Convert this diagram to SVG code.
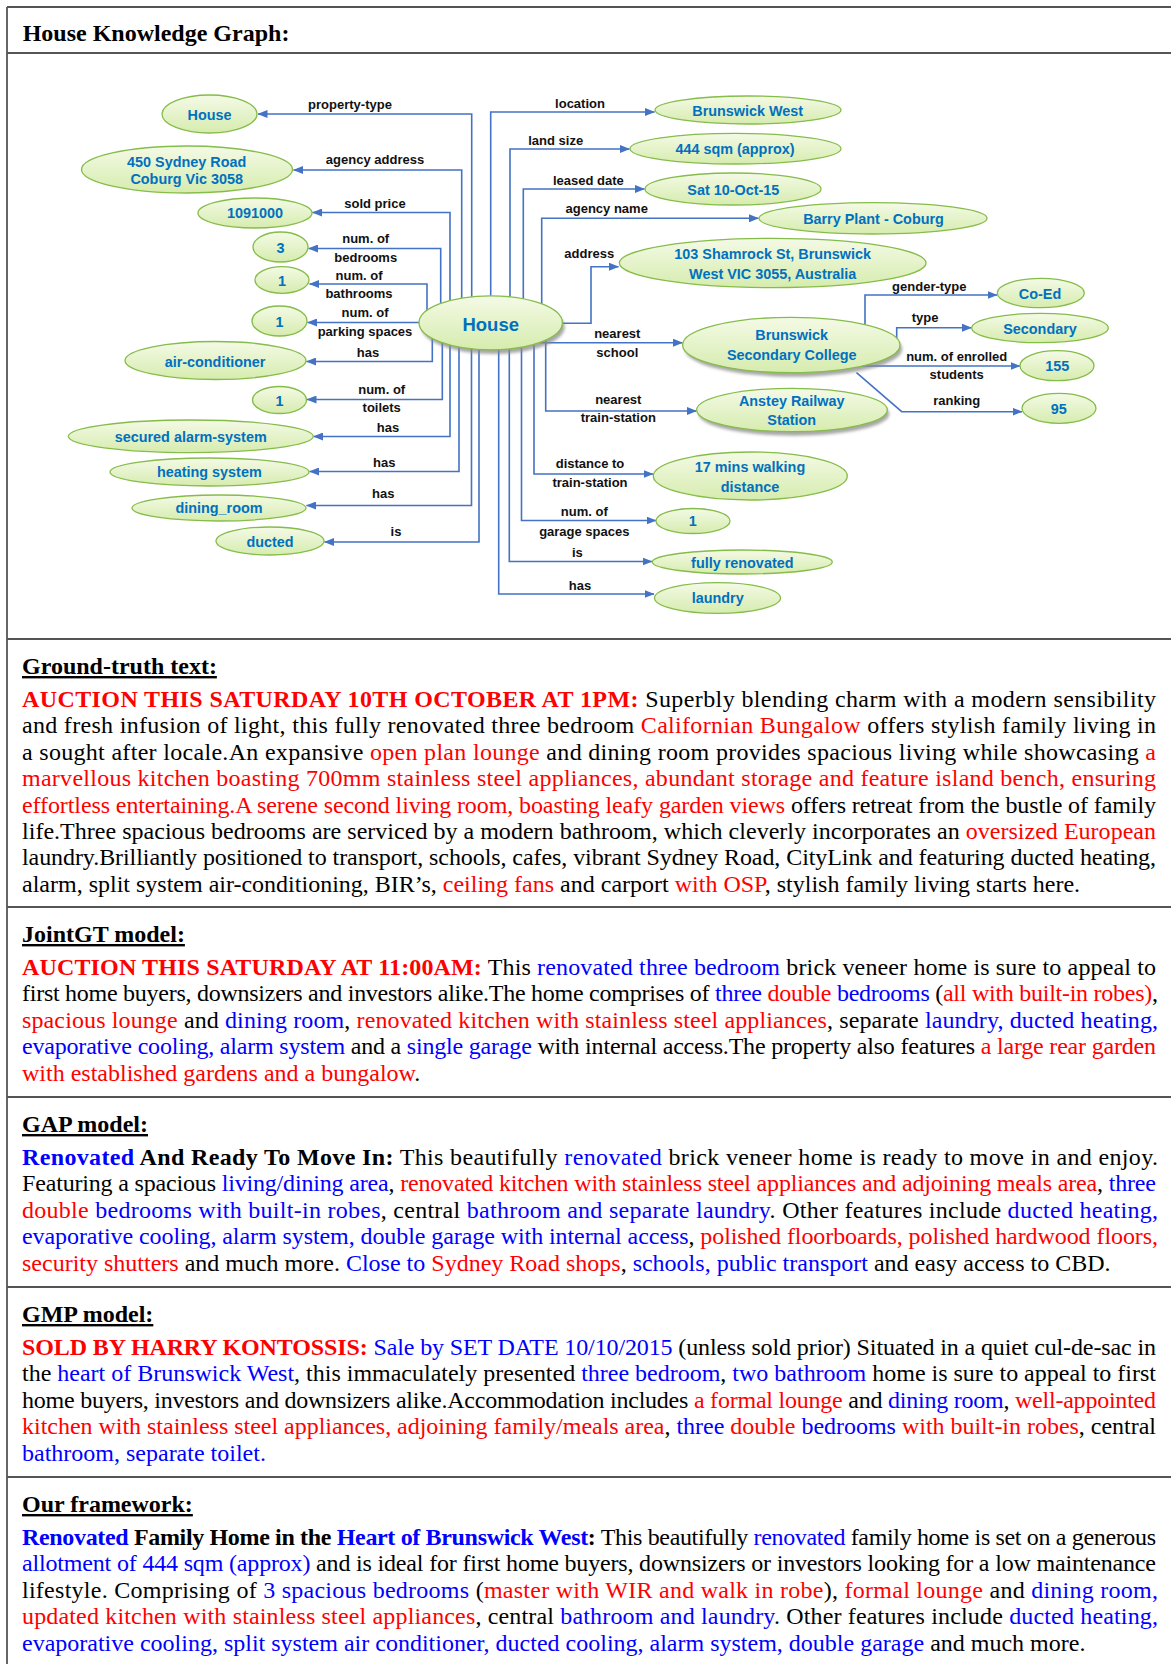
<svg xmlns="http://www.w3.org/2000/svg" width="1171" height="1664" viewBox="0 0 1171 1664">
<defs>
<linearGradient id="ng" x1="0" y1="0" x2="0" y2="1">
<stop offset="0" stop-color="#f4fae6"/>
<stop offset="1" stop-color="#d6ecae"/>
</linearGradient>
<filter id="sh" x="-20%" y="-20%" width="140%" height="160%"><feGaussianBlur stdDeviation="1.6"/></filter>
<marker id="ah" markerUnits="userSpaceOnUse" markerWidth="10" markerHeight="8" refX="9.5" refY="4" orient="auto">
<path d="M0,0 L10,4 L0,8 z" fill="#4472c4"/>
</marker>
<style>
.frame{stroke:#555;stroke-width:1.8;fill:none}
.node ellipse.e{fill:url(#ng);stroke:#86bc4a;stroke-width:1.3}
.node ellipse.s{fill:#8a8a8a;opacity:.75;filter:url(#sh)}
.nt{font-family:"Liberation Sans",Arial,sans-serif;font-weight:bold;font-size:14.4px;fill:#0070c0;text-anchor:middle}
.big{font-size:18.5px}
.conn path{fill:none;stroke:#4472c4;stroke-width:1.6;marker-end:url(#ah)}
.el{font-family:"Liberation Sans",Arial,sans-serif;font-weight:bold;font-size:13px;fill:#111;text-anchor:middle}
.tt{font-family:"Liberation Serif","Times New Roman",serif;font-size:24px;fill:#000}
.hd{font-weight:bold;text-decoration:underline}
.bd{font-weight:bold}
.r{fill:#ff0000}
.b{fill:#0000ff}
</style>
</defs>
<rect x="0" y="0" width="1171" height="1664" fill="#fff"/>
<g id="frame">
<line class="frame" x1="7" y1="7" x2="7" y2="1664"/>
<line class="frame" x1="7" y1="7" x2="1171" y2="7"/>
<line class="frame" x1="7" y1="53" x2="1171" y2="53"/>
<line class="frame" x1="7" y1="639" x2="1171" y2="639"/>
<line class="frame" x1="7" y1="907" x2="1171" y2="907"/>
<line class="frame" x1="7" y1="1097" x2="1171" y2="1097"/>
<line class="frame" x1="7" y1="1287" x2="1171" y2="1287"/>
<line class="frame" x1="7" y1="1477" x2="1171" y2="1477"/>
</g>
<text class="tt bd" x="22.7" y="40.7">House Knowledge Graph:</text>

<g id="connectors" class="conn">
<path d="M471.7,322 V114 H258"/>
<path d="M461.7,322 V170 H293.5"/>
<path d="M450,322 V212.5 H312.5"/>
<path d="M440.7,322 V248.5 H308.5"/>
<path d="M427,322 V284 H309.5"/>
<path d="M430,322.5 H307.5"/>
<path d="M432.3,322 V361.5 H306.5"/>
<path d="M442.3,322 V399.5 H307"/>
<path d="M450,322 V436.5 H313.5"/>
<path d="M459,322 V471.5 H309.5"/>
<path d="M471.5,322 V505.5 H306.5"/>
<path d="M479,322 V542 H324.5"/>
<path d="M490.7,322 V112 H654.5"/>
<path d="M510,322 V149 H629.5"/>
<path d="M523.3,322 V189 H644.5"/>
<path d="M541.7,322 V218.3 H758.5"/>
<path d="M550,323.3 H591 V266.7 H618.5"/>
<path d="M540,342.7 H682.5"/>
<path d="M545.7,322 V411 H696.5"/>
<path d="M534,322 V474 H653"/>
<path d="M521.5,322 V520.5 H656"/>
<path d="M509.3,322 V561.5 H652"/>
<path d="M498.7,322 V594 H654"/>
<path d="M865,340 V295 H997"/>
<path d="M896.7,340 V327.7 H971.5"/>
<path d="M860,366 H1020"/>
<path d="M856.5,372.7 L901.7,411.7 H1022"/>
</g>

<g id="edge-labels">
<text class="el" x="350" y="109">property-type</text>
<text class="el" x="375" y="164">agency address</text>
<text class="el" x="375" y="208.3">sold price</text>
<text class="el" x="365.7" y="243.3">num. of</text>
<text class="el" x="365.7" y="262.3">bedrooms</text>
<text class="el" x="359" y="280">num. of</text>
<text class="el" x="359" y="298.3">bathrooms</text>
<text class="el" x="365" y="317.3">num. of</text>
<text class="el" x="365" y="335.7">parking spaces</text>
<text class="el" x="368" y="357.3">has</text>
<text class="el" x="381.7" y="394">num. of</text>
<text class="el" x="381.7" y="412.3">toilets</text>
<text class="el" x="388" y="431.7">has</text>
<text class="el" x="384.3" y="466.7">has</text>
<text class="el" x="383.3" y="498.3">has</text>
<text class="el" x="396" y="536">is</text>
<text class="el" x="580" y="107.7">location</text>
<text class="el" x="555.7" y="145">land size</text>
<text class="el" x="588.3" y="185">leased date</text>
<text class="el" x="606.7" y="213.3">agency name</text>
<text class="el" x="589.3" y="258.3">address</text>
<text class="el" x="617.3" y="338.3">nearest</text>
<text class="el" x="617.3" y="356.7">school</text>
<text class="el" x="618.3" y="404">nearest</text>
<text class="el" x="618.3" y="421.7">train-station</text>
<text class="el" x="590" y="468.3">distance to</text>
<text class="el" x="590" y="486.7">train-station</text>
<text class="el" x="584.3" y="516">num. of</text>
<text class="el" x="584.3" y="535.7">garage spaces</text>
<text class="el" x="577.3" y="556.7">is</text>
<text class="el" x="580" y="590">has</text>
<text class="el" x="929.3" y="291">gender-type</text>
<text class="el" x="925" y="321.7">type</text>
<text class="el" x="956.7" y="361">num. of enrolled</text>
<text class="el" x="956.7" y="379">students</text>
<text class="el" x="956.7" y="405">ranking</text>
</g>

<g id="n-house-type" class="node"><ellipse class="e" cx="209.5" cy="114" rx="47.5" ry="19"/><text class="nt" x="209.5" y="119.5">House</text></g>
<g id="n-agency-address" class="node"><ellipse class="e" cx="187" cy="169.5" rx="105.5" ry="23.5"/><text class="nt" x="186.7" y="166.7">450 Sydney Road</text><text class="nt" x="186.7" y="184.3">Coburg Vic 3058</text></g>
<g id="n-price" class="node"><ellipse class="e" cx="255" cy="213" rx="57" ry="15"/><text class="nt" x="255" y="218">1091000</text></g>
<g id="n-bedrooms" class="node"><ellipse class="e" cx="280.5" cy="247" rx="27.5" ry="15"/><text class="nt" x="280.5" y="253">3</text></g>
<g id="n-bathrooms" class="node"><ellipse class="e" cx="282" cy="280" rx="27" ry="13.3"/><text class="nt" x="282" y="285.5">1</text></g>
<g id="n-parking" class="node"><ellipse class="e" cx="279.5" cy="321" rx="27.5" ry="15"/><text class="nt" x="279.5" y="327">1</text></g>
<g id="n-aircon" class="node"><ellipse class="e" cx="215.5" cy="360.5" rx="90.5" ry="19"/><text class="nt" x="215" y="366.5">air-conditioner</text></g>
<g id="n-toilets" class="node"><ellipse class="e" cx="279.5" cy="400" rx="27" ry="13.5"/><text class="nt" x="279.5" y="405.5">1</text></g>
<g id="n-alarm" class="node"><ellipse class="e" cx="190.8" cy="436.3" rx="122.5" ry="16.3"/><text class="nt" x="190.7" y="441.8">secured alarm-system</text></g>
<g id="n-heating" class="node"><ellipse class="e" cx="209.5" cy="472" rx="99.5" ry="14"/><text class="nt" x="209.3" y="477.3">heating system</text></g>
<g id="n-dining" class="node"><ellipse class="e" cx="219" cy="508" rx="87" ry="13"/><text class="nt" x="219" y="513.3">dining_room</text></g>
<g id="n-ducted" class="node"><ellipse class="e" cx="270" cy="541" rx="54" ry="14"/><text class="nt" x="270" y="546.5">ducted</text></g>

<g id="n-location" class="node"><ellipse class="e" cx="748" cy="110" rx="93" ry="14"/><text class="nt" x="747.7" y="116">Brunswick West</text></g>
<g id="n-landsize" class="node"><ellipse class="e" cx="735.5" cy="148.7" rx="105.5" ry="15.3"/><text class="nt" x="735" y="154.3">444 sqm (approx)</text></g>
<g id="n-leased" class="node"><ellipse class="e" cx="733" cy="189" rx="88" ry="16"/><text class="nt" x="733.3" y="194.7">Sat 10-Oct-15</text></g>
<g id="n-agency" class="node"><ellipse class="e" cx="873" cy="218.3" rx="114" ry="15.7"/><text class="nt" x="873.5" y="223.7">Barry Plant - Coburg</text></g>
<g id="n-address" class="node"><ellipse class="e" cx="772.7" cy="263" rx="153.3" ry="24.7"/><text class="nt" x="772.7" y="258.7">103 Shamrock St, Brunswick</text><text class="nt" x="772.7" y="278.7">West VIC 3055, Australia</text></g>

<g id="n-house" class="node"><ellipse class="s" cx="493" cy="327" rx="71.7" ry="27"/><ellipse class="e" cx="490.7" cy="322.8" rx="71.7" ry="27"/><text class="nt big" x="490.7" y="330.5">House</text></g>
<g id="n-school" class="node"><ellipse class="s" cx="793.5" cy="349" rx="108.7" ry="27.7"/><ellipse class="e" cx="791.3" cy="345" rx="108.7" ry="27.7"/><text class="nt" x="791.7" y="339.7">Brunswick</text><text class="nt" x="791.7" y="359.7">Secondary College</text></g>
<g id="n-station" class="node"><ellipse class="s" cx="794" cy="414" rx="95.3" ry="21.7"/><ellipse class="e" cx="792" cy="410" rx="95.3" ry="21.7"/><text class="nt" x="791.7" y="405.7">Anstey Railway</text><text class="nt" x="791.7" y="425.3">Station</text></g>
<g id="n-distance" class="node"><ellipse class="e" cx="750.3" cy="476" rx="97" ry="24"/><text class="nt" x="750" y="472">17 mins walking</text><text class="nt" x="750" y="492">distance</text></g>
<g id="n-garage" class="node"><ellipse class="e" cx="693" cy="521" rx="37" ry="12.5"/><text class="nt" x="692.7" y="526.3">1</text></g>
<g id="n-renovated" class="node"><ellipse class="e" cx="742.3" cy="562" rx="90" ry="12"/><text class="nt" x="742.3" y="567.7">fully renovated</text></g>
<g id="n-laundry" class="node"><ellipse class="e" cx="717.5" cy="598" rx="63" ry="15.3"/><text class="nt" x="717.7" y="603">laundry</text></g>

<g id="n-coed" class="node"><ellipse class="e" cx="1040.8" cy="293" rx="43.5" ry="14.7"/><text class="nt" x="1040" y="298.5">Co-Ed</text></g>
<g id="n-secondary" class="node"><ellipse class="e" cx="1040" cy="328" rx="68.3" ry="14.7"/><text class="nt" x="1040" y="333.5">Secondary</text></g>
<g id="n-155" class="node"><ellipse class="e" cx="1057" cy="365.7" rx="37" ry="15"/><text class="nt" x="1057.3" y="371.2">155</text></g>
<g id="n-95" class="node"><ellipse class="e" cx="1059" cy="408.3" rx="37" ry="15"/><text class="nt" x="1058.7" y="413.5">95</text></g>

<g id="ground-truth" class="tt">
<text class="tt hd" x="22" y="674">Ground-truth text:</text>
<text class="tt" x="22" y="707" textLength="1134" lengthAdjust="spacing"><tspan class="r bd">AUCTION THIS SATURDAY 10TH OCTOBER AT 1PM:</tspan> Superbly blending charm with a modern sensibility</text>
<text class="tt" x="22" y="733.4" textLength="1134" lengthAdjust="spacing">and fresh infusion of light, this fully renovated three bedroom <tspan class="r">Californian Bungalow</tspan> offers stylish family living in</text>
<text class="tt" x="22" y="759.8" textLength="1134" lengthAdjust="spacing">a sought after locale.An expansive <tspan class="r">open plan lounge</tspan> and dining room provides spacious living while showcasing <tspan class="r">a</tspan></text>
<text class="tt r" x="22" y="786.2" textLength="1134" lengthAdjust="spacing">marvellous kitchen boasting 700mm stainless steel appliances, abundant storage and feature island bench, ensuring</text>
<text class="tt" x="22" y="812.6" textLength="1134" lengthAdjust="spacing"><tspan class="r">effortless entertaining.A serene second living room, boasting leafy garden views</tspan> offers retreat from the bustle of family</text>
<text class="tt" x="22" y="839" textLength="1134" lengthAdjust="spacing">life.Three spacious bedrooms are serviced by a modern bathroom, which cleverly incorporates an <tspan class="r">oversized European</tspan></text>
<text class="tt" x="22" y="865.4" textLength="1134" lengthAdjust="spacing">laundry.Brilliantly positioned to transport, schools, cafes, vibrant Sydney Road, CityLink and featuring ducted heating,</text>
<text class="tt" x="22" y="891.8">alarm, split system air-conditioning, BIR’s, <tspan class="r">ceiling fans</tspan> and carport <tspan class="r">with OSP</tspan>, stylish family living starts here.</text>
</g>

<g id="jointgt" class="tt">
<text class="tt hd" x="22" y="942">JointGT model:</text>
<text class="tt" x="22" y="975" textLength="1134" lengthAdjust="spacing"><tspan class="r bd">AUCTION THIS SATURDAY AT 11:00AM:</tspan> This <tspan class="b">renovated three bedroom</tspan> brick veneer home is sure to appeal to</text>
<text class="tt" x="22" y="1001.4" textLength="1136" lengthAdjust="spacing">first home buyers, downsizers and investors alike.The home comprises of <tspan class="b">three</tspan> <tspan class="r">double</tspan> <tspan class="b">bedrooms</tspan> (<tspan class="r">all with built-in robes)</tspan>,</text>
<text class="tt" x="22" y="1027.8" textLength="1136" lengthAdjust="spacing"><tspan class="r">spacious lounge</tspan> and <tspan class="b">dining room</tspan>, <tspan class="r">renovated kitchen with stainless steel appliances</tspan>, separate <tspan class="b">laundry, ducted heating,</tspan></text>
<text class="tt" x="22" y="1054.2" textLength="1134" lengthAdjust="spacing"><tspan class="b">evaporative cooling, alarm system</tspan> and a <tspan class="b">single garage</tspan> with internal access.The property also features <tspan class="r">a large rear garden</tspan></text>
<text class="tt" x="22" y="1080.6"><tspan class="r">with established gardens and a bungalow</tspan>.</text>
</g>

<g id="gap" class="tt">
<text class="tt hd" x="22" y="1132">GAP model:</text>
<text class="tt" x="22" y="1165" textLength="1136" lengthAdjust="spacing"><tspan class="b bd">Renovated</tspan><tspan class="bd"> And Ready To Move In:</tspan> This beautifully <tspan class="b">renovated</tspan> brick veneer home is ready to move in and enjoy.</text>
<text class="tt" x="22" y="1191.4" textLength="1134" lengthAdjust="spacing">Featuring a spacious <tspan class="b">living/dining area</tspan>, <tspan class="r">renovated kitchen with stainless steel appliances and adjoining meals area</tspan>, <tspan class="b">three</tspan></text>
<text class="tt" x="22" y="1217.8" textLength="1136" lengthAdjust="spacing"><tspan class="r">double</tspan> <tspan class="b">bedrooms with built-in robes</tspan>, central <tspan class="b">bathroom and separate laundry</tspan>. Other features include <tspan class="b">ducted heating,</tspan></text>
<text class="tt" x="22" y="1244.2" textLength="1136" lengthAdjust="spacing"><tspan class="b">evaporative cooling, alarm system, double garage with internal access</tspan>, <tspan class="r">polished floorboards, polished hardwood floors,</tspan></text>
<text class="tt" x="22" y="1270.6"><tspan class="r">security shutters</tspan> and much more. <tspan class="b">Close to </tspan><tspan class="r">Sydney Road shops</tspan>, <tspan class="b">schools, public transport</tspan> and easy access to CBD.</text>
</g>

<g id="gmp" class="tt">
<text class="tt hd" x="22" y="1322">GMP model:</text>
<text class="tt" x="22" y="1355" textLength="1134" lengthAdjust="spacing"><tspan class="r bd">SOLD BY HARRY KONTOSSIS:</tspan> <tspan class="b">Sale by SET DATE 10/10/2015</tspan> (unless sold prior) Situated in a quiet cul-de-sac in</text>
<text class="tt" x="22" y="1381.4" textLength="1134" lengthAdjust="spacing">the <tspan class="b">heart of Brunswick West</tspan>, this immaculately presented <tspan class="b">three bedroom</tspan>, <tspan class="b">two bathroom</tspan> home is sure to appeal to first</text>
<text class="tt" x="22" y="1407.8" textLength="1134" lengthAdjust="spacing">home buyers, investors and downsizers alike.Accommodation includes <tspan class="r">a formal lounge</tspan> and <tspan class="b">dining room</tspan>, <tspan class="r">well-appointed</tspan></text>
<text class="tt" x="22" y="1434.2" textLength="1134" lengthAdjust="spacing"><tspan class="r">kitchen with stainless steel appliances, adjoining family/meals area</tspan>, <tspan class="b">three</tspan> <tspan class="r">double</tspan> <tspan class="b">bedrooms</tspan> <tspan class="r">with built-in robes</tspan>, central</text>
<text class="tt b" x="22" y="1460.6">bathroom, separate toilet.</text>
</g>

<g id="ours" class="tt">
<text class="tt hd" x="22" y="1512">Our framework:</text>
<text class="tt" x="22" y="1545" textLength="1134" lengthAdjust="spacing"><tspan class="b bd">Renovated</tspan><tspan class="bd"> Family Home in the </tspan><tspan class="b bd">Heart of Brunswick West</tspan><tspan class="bd">:</tspan> This beautifully <tspan class="b">renovated</tspan> family home is set on a generous</text>
<text class="tt" x="22" y="1571.4" textLength="1134" lengthAdjust="spacing"><tspan class="b">allotment of 444 sqm (approx)</tspan> and is ideal for first home buyers, downsizers or investors looking for a low maintenance</text>
<text class="tt" x="22" y="1597.8" textLength="1136" lengthAdjust="spacing">lifestyle. Comprising of <tspan class="b">3 spacious bedrooms</tspan> (<tspan class="r">master with WIR and walk in robe</tspan>), <tspan class="r">formal lounge</tspan> and <tspan class="b">dining room,</tspan></text>
<text class="tt" x="22" y="1624.2" textLength="1136" lengthAdjust="spacing"><tspan class="r">updated kitchen with stainless steel appliances</tspan>, central <tspan class="b">bathroom and laundry</tspan>. Other features include <tspan class="b">ducted heating,</tspan></text>
<text class="tt" x="22" y="1650.6"><tspan class="b">evaporative cooling, split system air conditioner, ducted cooling, alarm system, double garage</tspan> and much more.</text>
</g>
</svg>
